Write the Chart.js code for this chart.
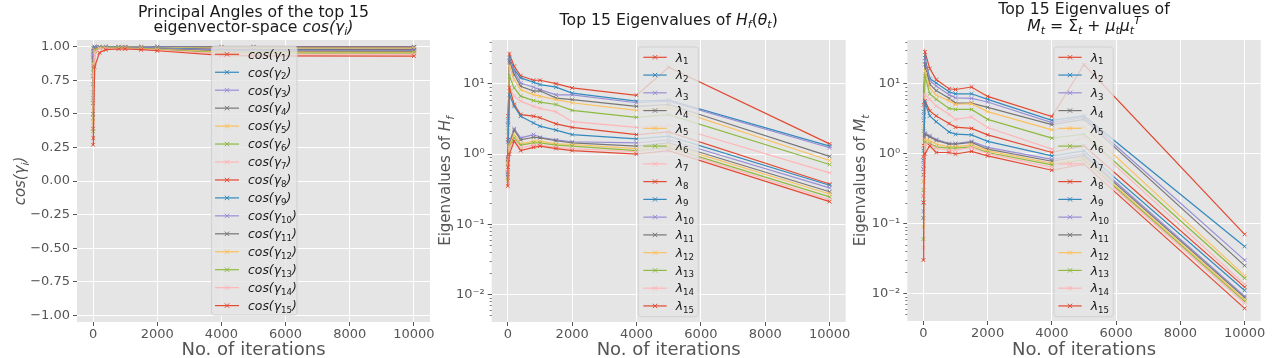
<!DOCTYPE html>
<html><head><meta charset="utf-8">
<script src="https://cdn.jsdelivr.net/npm/chart.js@4.4.0/dist/chart.umd.min.js"></script>
<style>
html,body{margin:0;padding:0;background:#fff;}
#wrap{position:relative;width:1280px;height:358px;overflow:hidden;}
canvas{position:absolute;left:0;top:0;}
</style></head><body><div id="wrap">
<canvas id="c1" width="1280" height="358"></canvas>
<canvas id="c2" width="1280" height="358"></canvas>
<canvas id="c3" width="1280" height="358"></canvas>
</div>
<script>
// ---------- data ----------
const iterations = [0, 10, 50, 200, 400, 800, 1000, 1500, 2000, 4000, 5000, 10000];
const xTickValues = [0, 2000, 4000, 6000, 8000, 10000];
const cosTickValues = [-1, -0.75, -0.5, -0.25, 0, 0.25, 0.5, 0.75, 1];
const logTickValues = [0.01, 0.1, 1, 10];

// principal angles cos(gamma_i)
const cos1  = [0.92, 0.99, 1.0, 1.0, 1.0, 1.0, 1.0, 1.0, 1.0, 1.0, 1.0, 1.0];
const cos2  = [0.78, 0.97, 0.998, 0.999, 0.999, 0.999, 0.999, 0.999, 0.999, 0.998, 0.998, 0.998];
const cos3  = [0.66, 0.95, 0.995, 0.998, 0.998, 0.998, 0.998, 0.997, 0.997, 0.995, 0.995, 0.995];
const cos4  = [0.58, 0.93, 0.99, 0.997, 0.997, 0.997, 0.997, 0.996, 0.995, 0.993, 0.993, 0.993];
const cos5  = [0.52, 0.90, 0.985, 0.996, 0.996, 0.996, 0.996, 0.995, 0.993, 0.99, 0.99, 0.99];
const cos6  = [0.47, 0.88, 0.98, 0.995, 0.995, 0.995, 0.995, 0.994, 0.992, 0.987, 0.987, 0.986];
const cos7  = [0.43, 0.86, 0.975, 0.994, 0.994, 0.994, 0.994, 0.992, 0.99, 0.984, 0.983, 0.982];
const cos8  = [0.39, 0.84, 0.97, 0.993, 0.993, 0.993, 0.993, 0.991, 0.988, 0.98, 0.979, 0.978];
const cos9  = [0.72, 0.96, 0.99, 0.995, 0.995, 0.995, 0.994, 0.992, 0.99, 0.978, 0.976, 0.975];
const cos10 = [0.62, 0.94, 0.985, 0.994, 0.994, 0.994, 0.993, 0.99, 0.987, 0.973, 0.971, 0.97];
const cos11 = [0.50, 0.90, 0.98, 0.992, 0.992, 0.992, 0.991, 0.988, 0.984, 0.968, 0.966, 0.965];
const cos12 = [0.44, 0.87, 0.975, 0.99, 0.99, 0.99, 0.989, 0.986, 0.981, 0.962, 0.96, 0.958];
const cos13 = [0.37, 0.83, 0.97, 0.988, 0.988, 0.988, 0.987, 0.984, 0.978, 0.955, 0.953, 0.952];
const cos14 = [0.32, 0.79, 0.96, 0.985, 0.985, 0.985, 0.984, 0.981, 0.975, 0.946, 0.944, 0.943];
const cos15 = [0.27, 0.32, 0.85, 0.955, 0.978, 0.983, 0.983, 0.978, 0.97, 0.935, 0.932, 0.93];

// eigenvalues of H_f
const hf1  = [0.9, 3.5, 26.7, 17.9, 13.1, 11.3, 11.3, 10.1, 8.8, 6.9, 17.3, 1.40];
const hf2  = [0.85, 3.0, 23.5, 16.0, 12.2, 10.6, 9.8, 9.0, 7.4, 5.7, 5.9, 1.30];
const hf3  = [0.8, 2.8, 22.0, 15.2, 10.3, 9.0, 8.3, 7.0, 7.0, 5.4, 5.7, 1.23];
const hf4  = [0.75, 2.6, 21.0, 13.6, 9.3, 7.9, 8.0, 6.3, 6.0, 4.8, 5.1, 0.93];
const hf5  = [0.7, 2.4, 17.9, 11.5, 8.3, 7.0, 6.7, 6.0, 5.4, 4.2, 4.6, 0.81];
const hf6  = [0.65, 2.1, 12.9, 8.8, 6.7, 5.8, 5.5, 5.1, 4.2, 3.35, 3.66, 0.71];
const hf7  = [0.6, 1.8, 8.8, 6.7, 5.7, 4.8, 4.5, 4.0, 2.9, 2.4, 2.6, 0.54];
const hf8  = [0.55, 1.6, 8.8, 5.1, 3.66, 3.47, 3.3, 2.7, 2.4, 1.9, 2.07, 0.375];
const hf9  = [0.52, 1.5, 7.0, 4.8, 3.47, 2.78, 2.5, 2.2, 1.9, 1.65, 1.8, 0.36];
const hf10 = [0.5, 0.9, 1.5, 2.3, 1.7, 1.9, 1.74, 1.6, 1.5, 1.45, 1.6, 0.33];
const hf11 = [0.47, 0.85, 1.4, 2.2, 1.6, 1.74, 1.7, 1.55, 1.45, 1.3, 1.45, 0.29];
const hf12 = [0.44, 0.8, 1.35, 1.9, 1.4, 1.53, 1.53, 1.4, 1.37, 1.2, 1.35, 0.27];
const hf13 = [0.41, 0.75, 1.3, 1.7, 1.34, 1.45, 1.45, 1.34, 1.3, 1.12, 1.25, 0.245];
const hf14 = [0.38, 0.7, 1.25, 1.55, 1.23, 1.34, 1.34, 1.25, 1.2, 1.08, 1.2, 0.225];
const hf15 = [0.35, 0.65, 1.0, 1.53, 1.12, 1.25, 1.3, 1.2, 1.12, 1.0, 1.12, 0.21];

// eigenvalues of M_t
const mt1  = [0.9, 5.0, 28.6, 16.5, 11.5, 8.5, 8.3, 9.0, 6.6, 3.4, 18.9, 0.07];
const mt2  = [0.8, 4.0, 23.5, 11.9, 10.3, 7.7, 7.2, 7.2, 6.0, 3.0, 3.47, 0.047];
const mt3  = [0.7, 3.5, 21.0, 11.1, 9.3, 7.0, 6.3, 6.2, 5.5, 2.78, 3.3, 0.03];
const mt4  = [0.6, 3.0, 18.9, 9.8, 8.0, 6.2, 5.3, 5.3, 4.6, 2.6, 3.1, 0.025];
const mt5  = [0.5, 2.5, 15.2, 8.8, 6.9, 5.7, 5.1, 5.2, 4.0, 2.2, 2.4, 0.018];
const mt6  = [0.4, 2.1, 12.9, 7.2, 6.0, 4.45, 4.3, 4.3, 3.1, 1.67, 1.9, 0.0165];
const mt7  = [0.3, 1.7, 7.0, 6.0, 4.8, 3.66, 3.1, 3.35, 2.37, 1.16, 1.74, 0.0135];
const mt8  = [0.25, 1.3, 5.7, 4.1, 3.47, 2.7, 2.4, 2.3, 1.86, 1.04, 1.3, 0.0123];
const mt9  = [0.2, 1.1, 5.4, 3.47, 2.87, 2.05, 1.9, 1.86, 1.5, 0.93, 1.1, 0.011];
const mt10 = [0.15, 0.6, 2.0, 1.8, 1.6, 1.4, 1.4, 1.5, 1.23, 0.83, 0.99, 0.0091];
const mt11 = [0.12, 0.5, 1.9, 1.74, 1.55, 1.37, 1.37, 1.45, 1.16, 0.78, 0.93, 0.0087];
const mt12 = [0.09, 0.4, 1.6, 1.53, 1.37, 1.25, 1.25, 1.34, 1.1, 0.73, 0.86, 0.0081];
const mt13 = [0.06, 0.3, 1.45, 1.4, 1.25, 1.2, 1.2, 1.25, 1.04, 0.69, 0.82, 0.0077];
const mt14 = [0.045, 0.25, 1.37, 1.34, 1.2, 1.12, 1.12, 1.23, 1.0, 0.64, 0.78, 0.0072];
const mt15 = [0.03, 0.2, 1.0, 1.3, 1.04, 1.04, 0.99, 1.08, 0.93, 0.58, 0.71, 0.0061];

// ---------- drawing ----------
const COLORS = ['#E24A33','#348ABD','#988ED5','#777777','#FBC15E','#8EBA42','#FFB5B8'];
const FAM = '"DejaVu Sans", sans-serif';
const SUBS = '₀₁₂₃₄₅₆₇₈₉';
const sub = n => String(n).split('').map(d => SUBS[+d]).join('');
const SUP = {'-2':'10⁻²','-1':'10⁻¹','0':'10⁰','1':'10¹'};

function datasets(series, labelFn){
  return series.map((arr, i) => ({
    label: labelFn(i + 1),
    data: iterations.map((x, j) => ({x: x, y: arr[j]})),
    borderColor: COLORS[i % 7], backgroundColor: COLORS[i % 7],
    borderWidth: 1.2, pointStyle: 'crossRot', pointRadius: 2.6, pointBorderWidth: 1,
    pointHoverRadius: 0, pointHitRadius: 0, tension: 0, fill: false, order: 15 - i
  }));
}

function segFont(s, size){
  const fs = (s.s || s.p) ? size * 0.7 : size;
  return (s.i ? 'italic ' : '') + fs.toFixed(1) + 'px ' + FAM;
}
function drawRich(ctx, segs, cx, cy, size, color, rot, left){
  ctx.save();
  let w = 0;
  segs.forEach(s => { ctx.font = segFont(s, size); w += ctx.measureText(s.t).width; });
  if (rot){ ctx.translate(cx + 0.35 * size, cy); ctx.rotate(-Math.PI / 2); }
  else { ctx.translate(cx, cy); }
  ctx.fillStyle = color; ctx.textBaseline = 'alphabetic'; ctx.textAlign = 'left';
  let x = left ? 0 : -w / 2;
  segs.forEach(s => {
    ctx.font = segFont(s, size);
    const dy = s.s ? size * 0.22 : (s.p ? -size * 0.42 : 0);
    ctx.fillText(s.t, x, dy);
    x += ctx.measureText(s.t).width;
  });
  ctx.restore();
}
// legend label as math-like segments (subscript digits upright)
function labelSegs(label){
  const m = label.match(/^(.*?)([₀-₉]+)(.*)$/);
  const digits = m[2].split('').map(c => SUBS.indexOf(c)).join('');
  const segs = [{t: m[1], i: 1}, {t: digits, s: 1}];
  if (m[3]) segs.push({t: m[3], i: 1});
  return segs;
}

const decoCfg = {};
const deco = {
  id: 'deco',
  beforeDraw(chart){
    const {ctx, chartArea: a} = chart;
    ctx.save(); ctx.fillStyle = '#E5E5E5';
    ctx.fillRect(a.left, a.top, a.right - a.left, a.bottom - a.top); ctx.restore();
  },
  afterDatasetsDraw(chart){
    const cfg = decoCfg[chart.canvas.id];
    const {ctx, chartArea: a} = chart;
    if (cfg.minor){
      const ys = chart.scales.y;
      ctx.save(); ctx.strokeStyle = '#555'; ctx.lineWidth = 0.8;
      for (let e = -3; e <= 1; e++) for (let k = 2; k <= 9; k++){
        const v = k * Math.pow(10, e);
        if (v < ys.min || v > ys.max) continue;
        const y = Math.round(ys.getPixelForValue(v)) + 0.5;
        ctx.beginPath(); ctx.moveTo(a.left - 2, y); ctx.lineTo(a.left, y); ctx.stroke();
      }
      ctx.restore();
    }
    const L = cfg.legend;
    ctx.save();
    ctx.beginPath(); ctx.roundRect(L.x1, L.y1, L.x2 - L.x1, L.y2 - L.y1, 3);
    ctx.fillStyle = 'rgba(229,229,229,0.8)'; ctx.fill();
    ctx.strokeStyle = 'rgba(204,204,204,0.8)'; ctx.lineWidth = 1; ctx.stroke();
    chart.data.datasets.forEach((ds, i) => {
      const y = L.fy + i * L.step;
      ctx.strokeStyle = ds.borderColor; ctx.lineWidth = 1.2;
      ctx.beginPath(); ctx.moveTo(L.lx1, y); ctx.lineTo(L.lx2, y); ctx.stroke();
      const cx = (L.lx1 + L.lx2) / 2, r = 2.2; ctx.lineWidth = 1;
      ctx.beginPath(); ctx.moveTo(cx - r, y - r); ctx.lineTo(cx + r, y + r);
      ctx.moveTo(cx - r, y + r); ctx.lineTo(cx + r, y - r); ctx.stroke();
      drawRich(ctx, labelSegs(ds.label), L.tx, y + 4.3, 12.4, '#1a1a1a', false, true);
    });
    ctx.restore();
  },
  afterDraw(chart){
    const cfg = decoCfg[chart.canvas.id];
    const {ctx, chartArea: a} = chart;
    const mid = (a.left + a.right) / 2;
    cfg.titles.forEach(t => drawRich(chart.ctx, t.segs, mid, t.by, 15.7, '#1a1a1a', false));
    drawRich(ctx, [{t: 'No. of iterations'}], mid, 355, 18, '#555555', false);
    drawRich(ctx, cfg.ytitle, cfg.yx, (a.top + a.bottom) / 2, 15, '#555555', true);
  }
};

function makeChart(id, area, series, labelFn, yScale){
  const xScale = {
    type: 'linear', min: -500, max: 10500,
    afterBuildTicks: s => { s.ticks = xTickValues.map(v => ({value: v})); },
    afterFit: s => { s.height = 358 - area.b; },
    ticks: {callback: v => String(v), color: '#555555', font: {family: FAM, size: 13}, padding: 1, maxRotation: 0, autoSkip: false},
    grid: {color: '#ffffff', lineWidth: 1, drawTicks: true, tickLength: 4, tickColor: '#555555', tickWidth: 1},
    border: {display: false}
  };
  yScale.afterFit = s => { s.width = area.l; };
  yScale.ticks = Object.assign({color: '#555555', font: {family: FAM, size: 13}, padding: 3, autoSkip: false}, yScale.ticks);
  yScale.grid = {color: '#ffffff', lineWidth: 1, drawTicks: true, tickLength: 4, tickColor: '#555555', tickWidth: 1};
  yScale.border = {display: false};
  return new Chart(document.getElementById(id), {
    type: 'line',
    data: {datasets: datasets(series, labelFn)},
    options: {
      responsive: false, animation: false, devicePixelRatio: 1,
      layout: {padding: {left: 0, right: 1280 - area.r, top: area.t, bottom: 0}},
      plugins: {legend: {display: false}, tooltip: {enabled: false}, title: {display: false}},
      scales: {x: xScale, y: yScale},
      events: []
    },
    plugins: [deco]
  });
}

// chart 1
decoCfg.c1 = {
  minor: false,
  legend: {x1: 211.5, y1: 46, x2: 297, y2: 315, fy: 54.3, step: 17.95, lx1: 215, lx2: 239, tx: 248},
  titles: [
    {segs: [{t: 'Principal Angles of the top 15'}], by: 16.5},
    {segs: [{t: 'eigenvector-space '}, {t: 'cos(γ', i: 1}, {t: 'i', i: 1, s: 1}, {t: ')', i: 1}], by: 31.5}
  ],
  ytitle: [{t: 'cos(γ', i: 1}, {t: 'i', i: 1, s: 1}, {t: ')', i: 1}], yx: 20
};
makeChart('c1', {l: 77, r: 430, t: 40, b: 322},
  [cos1, cos2, cos3, cos4, cos5, cos6, cos7, cos8, cos9, cos10, cos11, cos12, cos13, cos14, cos15],
  n => 'cos(γ' + sub(n) + ')',
  {type: 'linear', min: -1.05, max: 1.05,
   afterBuildTicks: s => { s.ticks = cosTickValues.map(v => ({value: v})); },
   ticks: {callback: v => (v < 0 ? '−' : '') + Math.abs(v).toFixed(2)}});

// chart 2
decoCfg.c2 = {
  minor: true,
  legend: {x1: 638.3, y1: 47, x2: 698.3, y2: 316.7, fy: 57.3, step: 17.76, lx1: 643.3, lx2: 666.7, tx: 675.7},
  titles: [
    {segs: [{t: 'Top 15 Eigenvalues of '}, {t: 'H', i: 1}, {t: 'f', i: 1, s: 1}, {t: '('}, {t: 'θ', i: 1}, {t: 't', i: 1, s: 1}, {t: ')'}], by: 25}
  ],
  ytitle: [{t: 'Eigenvalues of '}, {t: 'H', i: 1}, {t: 'f', i: 1, s: 1}], yx: 445
};
makeChart('c2', {l: 491.7, r: 845.7, t: 40, b: 322},
  [hf1, hf2, hf3, hf4, hf5, hf6, hf7, hf8, hf9, hf10, hf11, hf12, hf13, hf14, hf15],
  n => 'λ' + sub(n),
  {type: 'logarithmic', min: 0.00403, max: 42.4,
   afterBuildTicks: s => { s.ticks = logTickValues.map(v => ({value: v})); },
   ticks: {callback: v => SUP[String(Math.round(Math.log10(v)))]}});

// chart 3
decoCfg.c3 = {
  minor: true,
  legend: {x1: 1054, y1: 47, x2: 1113.3, y2: 316.7, fy: 57.3, step: 17.76, lx1: 1058.3, lx2: 1081.7, tx: 1090.7},
  titles: [
    {segs: [{t: 'Top 15 Eigenvalues of'}], by: 13.5},
    {segs: [{t: 'M', i: 1}, {t: 't', i: 1, s: 1}, {t: ' = Σ'}, {t: 't', i: 1, s: 1}, {t: ' + '}, {t: 'μ', i: 1}, {t: 't', i: 1, s: 1}, {t: 'μ', i: 1}, {t: 't', i: 1, s: 1}, {t: 'T', i: 1, p: 1}], by: 31}
  ],
  ytitle: [{t: 'Eigenvalues of '}, {t: 'M', i: 1}, {t: 't', i: 1, s: 1}], yx: 860
};
makeChart('c3', {l: 907.3, r: 1260.7, t: 40, b: 321},
  [mt1, mt2, mt3, mt4, mt5, mt6, mt7, mt8, mt9, mt10, mt11, mt12, mt13, mt14, mt15],
  n => 'λ' + sub(n),
  {type: 'logarithmic', min: 0.00403, max: 42.4,
   afterBuildTicks: s => { s.ticks = logTickValues.map(v => ({value: v})); },
   ticks: {callback: v => SUP[String(Math.round(Math.log10(v)))]}});
</script>
</body></html>
